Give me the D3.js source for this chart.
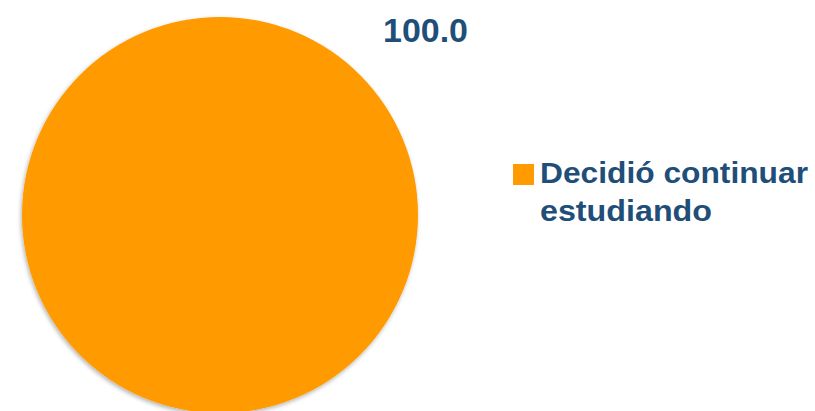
<!DOCTYPE html>
<html>
<head>
<meta charset="utf-8">
<script src="https://cdn.jsdelivr.net/npm/d3@7"></script>
<style>
  body { margin: 0; background: #fff; }
  svg { display: block; }
</style>
</head>
<body>
<script>
var width = 815;
var height = 411;

// data
var categories = ["Decidió continuar estudiando"];
var values = [100.0];
var labels = ["100.0"];
var legendLines = [["Decidió continuar", "estudiando"]];
var legendWidths = [268, 172];

var colors = ["#FF9A00"];
var textColor = "#1F4E79";

var svg = d3.select("body").append("svg")
    .attr("width", width)
    .attr("height", height)
    .attr("xmlns", "http://www.w3.org/2000/svg");

// soft shadow under the pie
var defs = svg.append("defs");
var f = defs.append("filter").attr("id", "shadow")
    .attr("x", "-10%").attr("y", "-10%").attr("width", "120%").attr("height", "120%");
f.append("feDropShadow")
    .attr("dx", -1).attr("dy", 2)
    .attr("stdDeviation", 2)
    .attr("flood-color", "#000")
    .attr("flood-opacity", 0.3);

var cx = 220, cy = 215, radius = 198;

var pie = d3.pie().sort(null).value(function(d) { return d; });
var arc = d3.arc().innerRadius(0).outerRadius(radius);
var color = d3.scaleOrdinal().domain(categories).range(colors);

var g = svg.append("g").attr("transform", "translate(" + cx + "," + cy + ")");

g.selectAll("path")
    .data(pie(values))
    .enter().append("path")
    .attr("d", arc)
    .attr("fill", function(d, i) { return color(categories[i]); })
    .attr("filter", "url(#shadow)");

// data label
svg.selectAll("text.lbl")
    .data(labels)
    .enter().append("text")
    .attr("class", "lbl")
    .attr("x", 383)
    .attr("y", 42)
    .attr("textLength", 85)
    .attr("lengthAdjust", "spacingAndGlyphs")
    .style("font-family", "'Liberation Sans', Arial, sans-serif")
    .style("font-weight", "bold")
    .style("font-size", "34px")
    .style("fill", textColor)
    .text(function(d) { return d; });

// legend
var legend = svg.append("g").attr("transform", "translate(513,164)");
legend.selectAll("rect")
    .data(categories)
    .enter().append("rect")
    .attr("x", 0).attr("y", 0)
    .attr("width", 21).attr("height", 21)
    .attr("fill", function(d) { return color(d); });

legend.selectAll("text")
    .data(legendLines[0])
    .enter().append("text")
    .attr("x", 27)
    .attr("y", function(d, i) { return 19 + i * 38; })
    .attr("textLength", function(d, i) { return legendWidths[i]; })
    .attr("lengthAdjust", "spacingAndGlyphs")
    .style("font-family", "'Liberation Sans', Arial, sans-serif")
    .style("font-weight", "bold")
    .style("font-size", "30px")
    .style("fill", textColor)
    .text(function(d) { return d; });
</script>
</body>
</html>
